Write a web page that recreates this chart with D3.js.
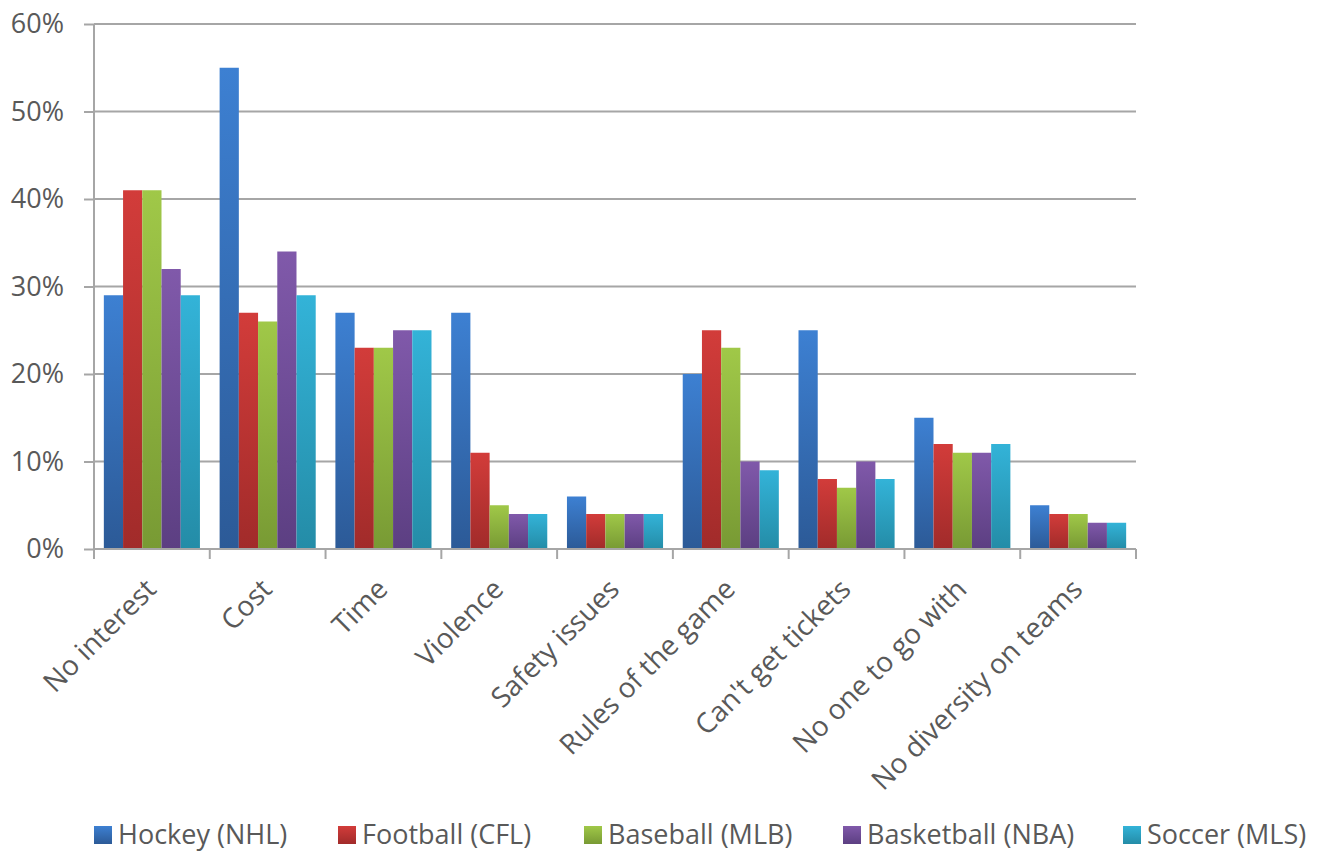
<!DOCTYPE html>
<html>
<head>
<meta charset="utf-8">
<script src="https://cdn.jsdelivr.net/npm/d3@7"></script>
<style>
  html, body { margin: 0; padding: 0; background: #fff; }
  svg { display: block; }
  text { font-family: "Open Sans", "Liberation Sans", sans-serif; fill: #595959; }
</style>
</head>
<body>
<svg id="chart" width="1330" height="851"></svg>
<script>
const categories = ["No interest", "Cost", "Time", "Violence", "Safety issues",
  "Rules of the game", "Can't get tickets", "No one to go with", "No diversity on teams"];
const seriesNames = ["Hockey (NHL)", "Football (CFL)", "Baseball (MLB)", "Basketball (NBA)", "Soccer (MLS)"];
const hockey     = [29, 55, 27, 27, 6, 20, 25, 15, 5];
const football   = [41, 27, 23, 11, 4, 25, 8, 12, 4];
const baseball   = [41, 26, 23, 5, 4, 23, 7, 11, 4];
const basketball = [32, 34, 25, 4, 4, 10, 10, 11, 3];
const soccer     = [29, 29, 25, 4, 4, 9, 8, 12, 3];
const yTicks = [0, 10, 20, 30, 40, 50, 60];

const seriesValues = [hockey, football, baseball, basketball, soccer];
const colors = [
  { top: "#3d80d2", bottom: "#2c5a97" },
  { top: "#d23c3a", bottom: "#a12b2a" },
  { top: "#a0c848", bottom: "#789a34" },
  { top: "#8059aa", bottom: "#5c3f82" },
  { top: "#33b3d8", bottom: "#248ca7" }
];

const svg = d3.select("#chart");
const W = 1330, H = 851;
const margin = { left: 94, right: 194, top: 24, bottom: 302 };
const x0 = margin.left, x1 = W - margin.right;
const yTop = margin.top, yBot = H - margin.bottom;

const defs = svg.append("defs");
colors.forEach((c, i) => {
  const g = defs.append("linearGradient").attr("id", "grad" + i)
    .attr("x1", 0).attr("y1", 0).attr("x2", 0).attr("y2", 1);
  g.append("stop").attr("offset", "0%").attr("stop-color", c.top);
  g.append("stop").attr("offset", "100%").attr("stop-color", c.bottom);
});

const x = d3.scaleBand().domain(categories).range([x0, x1]).paddingInner(0.17).paddingOuter(0.085);
const xs = d3.scaleBand().domain(d3.range(seriesNames.length)).range([0, x.bandwidth()]);
const y = d3.scaleLinear().domain([0, 60]).range([yBot, yTop]);

// horizontal gridlines
svg.append("g").selectAll("line").data(yTicks.slice(1)).join("line")
  .attr("x1", x0).attr("x2", x1)
  .attr("y1", d => y(d)).attr("y2", d => y(d))
  .attr("stroke", "#a6a6a6").attr("stroke-width", 2);

// bars, one group per category
const rows = categories.map((c, i) => ({ cat: c, vals: seriesValues.map(s => s[i]) }));
const groups = svg.append("g").selectAll("g").data(rows).join("g")
  .attr("transform", d => `translate(${x(d.cat)},0)`);
groups.selectAll("rect").data(d => d.vals.map((v, k) => ({ v, k }))).join("rect")
  .attr("x", d => xs(d.k)).attr("width", xs.bandwidth())
  .attr("y", d => y(d.v)).attr("height", d => yBot - y(d.v))
  .attr("fill", d => `url(#grad${d.k})`);

// y axis
const yAxis = svg.append("g").attr("transform", `translate(${x0},0)`)
  .call(d3.axisLeft(y).tickValues(yTicks).tickFormat(d => d + "%").tickSize(10).tickPadding(20));
yAxis.select(".domain").attr("stroke", "#a6a6a6").attr("stroke-width", 2)
  .attr("d", `M0,${yTop}V${yBot}`);
yAxis.selectAll(".tick line").attr("stroke", "#a6a6a6").attr("stroke-width", 2);
yAxis.selectAll(".tick text").attr("font-size", 27).attr("fill", "#595959")
  .attr("font-family", "'Open Sans', sans-serif");

// x axis line with tick marks at category boundaries
const edges = d3.range(categories.length + 1).map(i => x0 + (x1 - x0) * i / categories.length);
svg.append("line").attr("x1", x0).attr("x2", x1).attr("y1", yBot).attr("y2", yBot)
  .attr("stroke", "#a6a6a6").attr("stroke-width", 2);
svg.append("g").selectAll("line").data(edges).join("line")
  .attr("x1", d => d).attr("x2", d => d).attr("y1", yBot).attr("y2", yBot + 10)
  .attr("stroke", "#a6a6a6").attr("stroke-width", 2);

// rotated category labels
svg.append("g").selectAll("text").data(categories).join("text")
  .attr("transform", d => `translate(${x(d) + x.bandwidth() / 2 + 6},${yBot + 42}) rotate(-45)`)
  .attr("text-anchor", "end")
  .attr("font-size", 28).text(d => d);

// legend
const legendX = [94, 338, 584, 843, 1123];
const legend = svg.append("g").selectAll("g").data(seriesNames).join("g")
  .attr("transform", (d, i) => `translate(${legendX[i]},844)`);
legend.append("rect").attr("x", 0).attr("y", -18).attr("width", 18).attr("height", 18)
  .attr("fill", (d, i) => `url(#grad${i})`);
legend.append("text").attr("x", 24).attr("y", 0)
  .attr("font-size", 27).text(d => d);
</script>
</body>
</html>
